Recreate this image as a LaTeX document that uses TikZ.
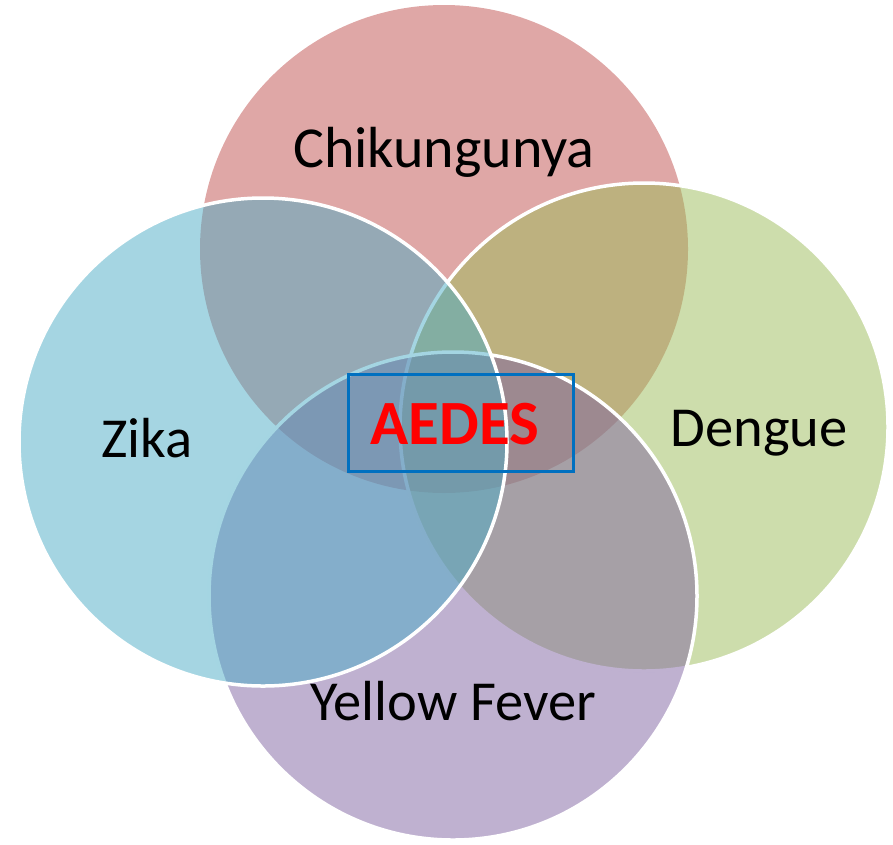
\documentclass[tikz,border=0pt]{standalone}
\usepackage{fontspec}
\setmainfont{Carlito}
\definecolor{chikred}{RGB}{192,80,77}
\definecolor{zikablue}{RGB}{75,172,198}
\definecolor{denggreen}{RGB}{155,187,89}
\definecolor{yfpurple}{RGB}{128,100,162}
\definecolor{boxblue}{RGB}{0,112,192}
\begin{document}
\begin{tikzpicture}[
  x=1pt,y=-1pt,
  ring/.style={circle, draw=white, line width=3.5pt, fill opacity=0.5, inner sep=0pt, minimum size=488pt},
  disease/.style={font=\fontsize{56.5}{60}\selectfont, anchor=base, inner sep=0pt},
  vectorbox/.style={draw=boxblue, line width=3.3pt, minimum width=225pt, minimum height=97pt, inner sep=0pt},
  vectortext/.style={text=red, font=\fontsize{63}{66}\selectfont\bfseries, anchor=base, inner sep=0pt}
]
\useasboundingbox (0,0) rectangle (893,844);

% circles, back to front
\node[ring, fill=chikred, draw=none] (chik) at (444,249) {};
\node[ring, fill=denggreen]          (deng) at (644,427) {};
\node[ring, fill=yfpurple]           (yf)   at (453,596) {};
\node[ring, fill=zikablue]           (zika) at (263,442) {};

% names
\node[disease, font=\fontsize{58}{60}\selectfont] (chiklabel) at (444,167) {Chikungunya};
\node[disease] (zikalabel) at (147,457) {Zika};
\node[disease] (denglabel) at (759,446) {Dengue};
\node[disease] (yflabel)   at (453,720) {Yellow Fever};

% the common vector
\node[vectorbox]  (box)   at (461,423) {};
\node[vectortext] (aedes) at (455,444) {AEDES};
\end{tikzpicture}
\end{document}
